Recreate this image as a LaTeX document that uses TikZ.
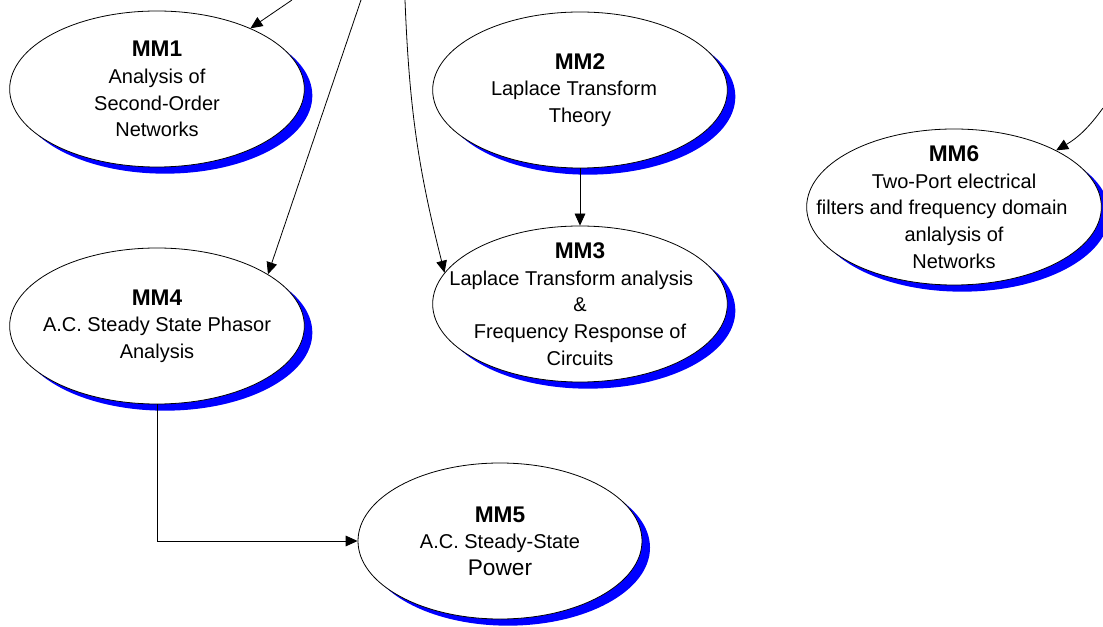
\documentclass[tikz,border=0pt]{standalone}
\usepackage{fontspec}
\setmainfont{Liberation Sans}
\usetikzlibrary{shapes,arrows.meta,shadows,positioning}

\newcommand{\mmhead}[1]{{\fontsize{17}{20}\selectfont\bfseries #1}}

\begin{document}
\begin{tikzpicture}[
    x=0.75pt, y=-0.75pt,
    line width=0.6pt,
    >={Triangle[length=9pt,width=8pt]},
    mm/.style={ellipse, draw, fill=white, minimum width=221pt, minimum height=117pt, inner sep=0pt,
        general shadow={fill=blue, shadow xshift=6pt, shadow yshift=-5pt}},
    mmtext/.style={align=center, font=\fontsize{15}{20}\selectfont}
]
    \useasboundingbox (0,0) rectangle (1103,627);

    % modules
    \node[mm, label={[mmtext]center:{\mmhead{MM1}\\Analysis of\\Second-Order\\Networks}}] (mm1) at (157,89) {};
    \node[mm, label={[mmtext]center:{\mmhead{MM2}\\Laplace Transform\rule{9pt}{0pt}\\Theory}}] (mm2) at (580,90) {};
    \node[mm, label={[mmtext]center:{\mmhead{MM3}\\Laplace Transform analysis\rule{13pt}{0pt}\\\&\\Frequency Response of\\Circuits}}] (mm3) at (580,304) {};
    \node[mm, label={[mmtext]center:{\mmhead{MM4}\\A.C. Steady State Phasor\\Analysis}}] (mm4) at (157,326) {};
    \node[mm, minimum width=213pt, label={[mmtext]center:{\mmhead{MM5}\\A.C. Steady-State\\{\fontsize{17}{20}\selectfont Power}}}] (mm5) at (500,541) {};
    \node[mm, label={[mmtext]center:{\mmhead{MM6}\\Two-Port electrical\\filters and frequency domain\rule{18pt}{0pt}\\anlalysis of\\Networks}}] (mm6) at (954,207) {};

    % incoming links from above
    \coordinate (in1) at (292,0);
    \coordinate (in3) at (405,0);
    \coordinate (in4) at (361,0);
    \coordinate (in6) at (1103,108);

    \draw[->] (in1) -- (mm1.33);
    \draw[->] (in4) -- (mm4.25);
    \draw[->] (in3) to[bend right=6] (mm3.167);
    \draw[->] (in6) to[bend left=12] (mm6.29);
    \draw[->] (mm2) -- (mm3);
    \draw[->] (mm4.south) |- (mm5.west);
\end{tikzpicture}
\end{document}
